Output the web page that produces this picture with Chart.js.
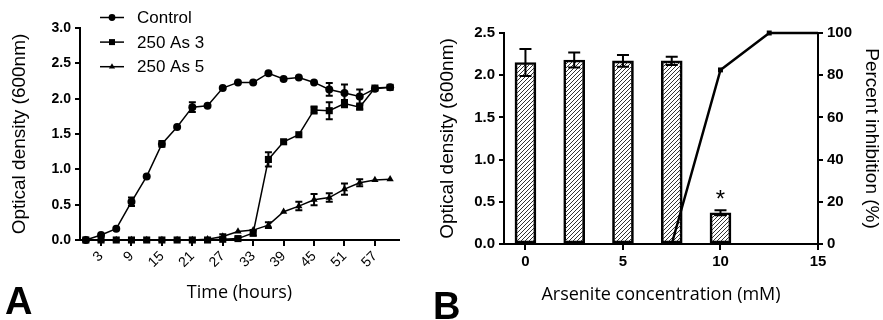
<!DOCTYPE html>
<html>
<head>
<meta charset="utf-8">
<script src="https://cdn.jsdelivr.net/npm/chart.js@4.4.1/dist/chart.umd.min.js"></script>
<style>
  html, body { margin: 0; padding: 0; background: #fff; }
  #wrap { position: relative; width: 883px; height: 320px; overflow: hidden; }
  #canvasA { position: absolute; left: 0; top: 0; }
  #canvasB { position: absolute; left: 430px; top: 0; }
  .panel-letter {
    position: absolute;
    font-family: "Liberation Sans", Arial, sans-serif;
    font-weight: bold;
    font-size: 38px;
    line-height: 1;
    color: #000;
  }
</style>
</head>
<body>
<div id="wrap">
  <canvas id="canvasA" width="430" height="320"></canvas>
  <canvas id="canvasB" width="453" height="320"></canvas>
  <div class="panel-letter" style="left:5px; top:282px;">A</div>
  <div class="panel-letter" style="left:433px; top:287px;">B</div>
</div>

<script>
// **********************************************
// Data

// Panel A - growth curves, sampled every 3 hours
const hours = [0, 3, 6, 9, 12, 15, 18, 21, 24, 27, 30, 33, 36, 39, 42, 45, 48, 51, 54, 57, 60];
const timeTicks = [3, 9, 15, 21, 27, 33, 39, 45, 51, 57];

const control    = [0.00, 0.07, 0.16, 0.54, 0.90, 1.36, 1.60, 1.88, 1.90, 2.15, 2.23, 2.23, 2.36, 2.28, 2.30, 2.23, 2.13, 2.08, 2.03, 2.14, 2.16];
const controlErr = [0, 0, 0, 0.06, 0, 0.04, 0, 0.07, 0, 0, 0, 0, 0, 0, 0, 0, 0.09, 0.12, 0.10, 0, 0];

const as3    = [0, 0, 0, 0, 0, 0, 0, 0, 0, 0.01, 0.02, 0.10, 1.14, 1.39, 1.49, 1.84, 1.83, 1.93, 1.88, 2.15, 2.16];
const as3Err = [0, 0, 0, 0, 0, 0, 0, 0, 0, 0, 0.02, 0.04, 0.10, 0, 0, 0.05, 0.12, 0.05, 0.03, 0, 0];

const as5    = [0, 0, 0, 0, 0, 0, 0, 0, 0.01, 0.05, 0.12, 0.14, 0.21, 0.40, 0.48, 0.57, 0.60, 0.72, 0.81, 0.85, 0.86];
const as5Err = [0, 0, 0, 0, 0, 0, 0, 0, 0, 0.03, 0, 0, 0.04, 0, 0.06, 0.08, 0.06, 0.08, 0.05, 0, 0];

// Panel B - OD at each arsenite concentration, plus percent inhibition
const concentrations = [0, 2.5, 5, 7.5, 10, 12.5];
const odMeans  = [2.15, 2.18, 2.17, 2.17, 0.37, 0];
const odErr    = [0.16, 0.09, 0.07, 0.05, 0.03, 0];
const sigMarks = ['', '', '', '', '*', ''];
const concTicks = [0, 5, 10, 15];

const inhibConc  = [7.5, 10, 12.5, 15];
const inhibition = [0, 82.5, 100, 100];


// **********************************************
// Shared bits

const tickFont = '"Liberation Sans", Arial, sans-serif';
const titleFont = '"Open Sans", "Noto Sans", sans-serif';

// error bars with caps, drawn through the dataset's own y scale
const errorBars = {
    id: 'errorBars',
    afterDatasetsDraw(chart) {
        const ctx = chart.ctx;
        chart.data.datasets.forEach((ds, i) => {
            if (!ds.errors) return;
            const meta = chart.getDatasetMeta(i);
            const yScale = chart.scales[meta.yAxisID];
            const half = ds.capWidth / 2;
            ctx.save();
            ctx.strokeStyle = '#000';
            ctx.fillStyle = '#000';
            ctx.lineWidth = 2;
            meta.data.forEach((el, j) => {
                const v = ds.data[j].y;
                const err = ds.errors[j];
                const x = el.x;
                const top = yScale.getPixelForValue(v + err);
                if (err) {
                    const bot = yScale.getPixelForValue(v - err);
                    ctx.beginPath();
                    ctx.moveTo(x, top); ctx.lineTo(x, bot);
                    ctx.moveTo(x - half, top); ctx.lineTo(x + half, top);
                    ctx.moveTo(x - half, bot); ctx.lineTo(x + half, bot);
                    ctx.stroke();
                }
                // significance mark above the bar
                if (ds.marks && ds.marks[j]) {
                    ctx.font = '24px ' + tickFont;
                    ctx.textAlign = 'center';
                    ctx.textBaseline = 'alphabetic';
                    ctx.fillText(ds.marks[j], x, top - 3);
                }
            });
            ctx.restore();
        });
    }
};

// legend of panel A: line + marker + label, in the top left corner
const legendA = {
    id: 'legendA',
    afterDraw(chart) {
        const ctx = chart.ctx;
        ctx.save();
        chart.data.datasets.forEach((ds, i) => {
            const y = 17.5 + i * 24.6;
            ctx.strokeStyle = '#000';
            ctx.fillStyle = '#000';
            ctx.lineWidth = 1.5;
            ctx.beginPath();
            ctx.moveTo(100, y);
            ctx.lineTo(124, y);
            ctx.stroke();
            Chart.helpers.drawPoint(ctx, {
                pointStyle: ds.pointStyle,
                radius: ds.pointRadius * 0.85,
                rotation: 0,
                borderWidth: 0
            }, 112, y);
            ctx.font = '17px ' + tickFont;
            ctx.textAlign = 'left';
            ctx.textBaseline = 'middle';
            ctx.fillText(ds.label, 137, y + 1);
        });
        ctx.restore();
    }
};

function toPoints(xs, ys) {
    return xs.map((x, i) => ({x: x, y: ys[i]}));
}

function lineSet(label, ys, errs, style, radius) {
    return {
        label: label,
        data: toPoints(hours, ys),
        errors: errs,
        capWidth: 7,
        borderColor: '#000',
        borderWidth: 1.5,
        backgroundColor: '#000',
        pointStyle: style,
        pointRadius: radius,
        pointBackgroundColor: '#000',
        pointBorderWidth: 0,
        tension: 0,
        clip: false
    };
}


// **********************************************
// Panel A - growth over time

new Chart(document.getElementById('canvasA'), {
    type: 'line',
    data: {
        datasets: [
            lineSet('Control', control, controlErr, 'circle', 4),
            lineSet('250 As 3', as3, as3Err, 'rect', 5),
            lineSet('250 As 5', as5, as5Err, 'triangle', 4.2)
        ]
    },
    options: {
        responsive: false,
        animation: false,
        layout: { padding: { left: 0, right: 31, top: 28, bottom: 0 } },
        plugins: { legend: { display: false }, tooltip: { enabled: false } },
        scales: {
            x: {
                type: 'linear',
                min: -1.15,
                max: 61.75,
                afterBuildTicks: s => { s.ticks = timeTicks.map(v => ({value: v})); },
                afterFit: s => { s.height = 80; },
                ticks: {
                    autoSkip: false,
                    minRotation: 45,
                    maxRotation: 45,
                    color: '#000',
                    padding: 2,
                    font: { family: tickFont, size: 14 }
                },
                grid: { drawOnChartArea: false, color: '#000', lineWidth: 2, tickLength: 6 },
                border: { color: '#000', width: 2 },
                title: {
                    display: true,
                    text: 'Time (hours)',
                    color: '#000',
                    font: { family: titleFont, size: 18 },
                    padding: { top: 0, bottom: 16 }
                }
            },
            y: {
                min: 0,
                max: 3,
                afterFit: s => { s.width = 80; },
                ticks: {
                    stepSize: 0.5,
                    color: '#000',
                    padding: 4,
                    font: { family: tickFont, size: 14, weight: 'bold' },
                    callback: v => v.toFixed(1)
                },
                grid: { drawOnChartArea: false, color: '#000', lineWidth: 2, tickLength: 5 },
                border: { color: '#000', width: 2 },
                title: {
                    display: true,
                    text: 'Optical density (600nm)',
                    color: '#000',
                    font: { family: tickFont, size: 19 },
                    padding: { top: 8.6, bottom: 0 }
                }
            }
        }
    },
    plugins: [errorBars, legendA]
});


// **********************************************
// Panel B - OD and inhibition against arsenite concentration

const canvasB = document.getElementById('canvasB');

// diagonal hatch for the bars
function makeHatch(ctx) {
    const c = document.createElement('canvas');
    c.width = 4; c.height = 4;
    const g = c.getContext('2d');
    g.strokeStyle = '#333';
    g.lineWidth = 1;
    g.beginPath();
    g.moveTo(-1, 5); g.lineTo(5, -1);
    g.moveTo(-1, 1); g.lineTo(1, -1);
    g.moveTo(3, 5); g.lineTo(5, 3);
    g.stroke();
    return ctx.createPattern(c, 'repeat');
}
const hatch = makeHatch(canvasB.getContext('2d'));

new Chart(canvasB, {
    type: 'bar',
    data: {
        datasets: [
            {
                type: 'line',
                label: 'Percent inhibition',
                data: toPoints(inhibConc, inhibition),
                yAxisID: 'y2',
                order: 1,
                borderColor: '#000',
                borderWidth: 2.5,
                pointStyle: 'rect',
                // end points sit on the axes, markers only show inside
                pointRadius: c => (c.dataIndex === 0 || c.dataIndex === inhibConc.length - 1) ? 0 : 3.5,
                pointBackgroundColor: '#000',
                pointBorderWidth: 0,
                tension: 0,
                clip: false
            },
            {
                type: 'bar',
                label: 'Optical density',
                data: toPoints(concentrations, odMeans),
                errors: odErr,
                marks: sigMarks,
                capWidth: 12,
                yAxisID: 'y',
                order: 2,
                backgroundColor: hatch,
                borderColor: '#000',
                borderWidth: 2,
                borderSkipped: false,
                barThickness: 21
            }
        ]
    },
    options: {
        responsive: false,
        animation: false,
        layout: { padding: { left: 0, right: 0, top: 33, bottom: 0 } },
        plugins: { legend: { display: false }, tooltip: { enabled: false } },
        scales: {
            x: {
                type: 'linear',
                offset: false,
                min: -1.1,
                max: 15,
                afterBuildTicks: s => { s.ticks = concTicks.map(v => ({value: v})); },
                afterFit: s => { s.height = 76; },
                ticks: {
                    color: '#000',
                    padding: 3,
                    maxRotation: 0,
                    font: { family: tickFont, size: 15, weight: 'bold' }
                },
                grid: { offset: false, drawOnChartArea: false, color: '#000', lineWidth: 2, tickLength: 6 },
                border: { color: '#000', width: 2 },
                title: {
                    display: true,
                    text: 'Arsenite concentration (mM)',
                    color: '#000',
                    font: { family: titleFont, size: 18 },
                    padding: { top: 0, bottom: 14 }
                }
            },
            y: {
                position: 'left',
                min: 0,
                max: 2.5,
                afterFit: s => { s.width = 74; },
                ticks: {
                    stepSize: 0.5,
                    color: '#000',
                    padding: 4,
                    font: { family: tickFont, size: 15, weight: 'bold' },
                    callback: v => v.toFixed(1)
                },
                grid: { drawOnChartArea: false, color: '#000', lineWidth: 2, tickLength: 5 },
                border: { color: '#000', width: 2 },
                title: {
                    display: true,
                    text: 'Optical density (600nm)',
                    color: '#000',
                    font: { family: tickFont, size: 19 },
                    padding: { top: 6.6, bottom: 0 }
                }
            },
            y2: {
                position: 'right',
                min: 0,
                max: 100,
                afterFit: s => { s.width = 65; },
                ticks: {
                    stepSize: 20,
                    color: '#000',
                    padding: 4,
                    font: { family: tickFont, size: 15, weight: 'bold' }
                },
                grid: { drawOnChartArea: false, color: '#000', lineWidth: 2, tickLength: 5 },
                border: { color: '#000', width: 2 },
                title: {
                    display: true,
                    text: 'Percent inhibition (%)',
                    color: '#000',
                    font: { family: tickFont, size: 19 },
                    padding: { top: 0, bottom: 0 }
                }
            }
        }
    },
    plugins: [errorBars]
});
</script>
</body>
</html>
